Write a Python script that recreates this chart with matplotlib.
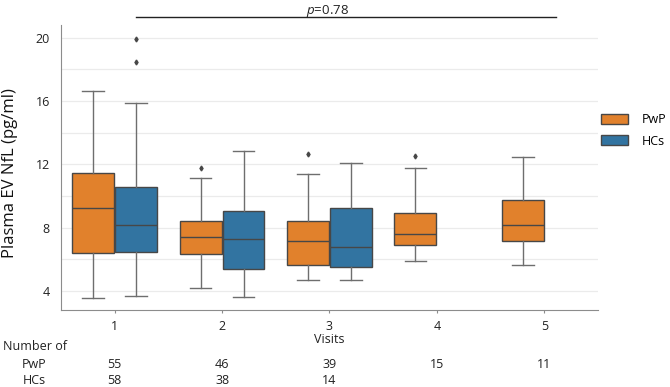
import matplotlib.pyplot as plt
from matplotlib.patches import Patch
from matplotlib.transforms import blended_transform_factory

plt.rcParams['font.family'] = ['Open Sans', 'DejaVu Sans']
plt.rcParams['mathtext.fontset'] = 'custom'
plt.rcParams['mathtext.it'] = 'Open Sans:italic'
plt.rcParams['mathtext.rm'] = 'Open Sans'

# ---------------------------------
# Data
# ---------------------------------
visits = ['1', '2', '3', '4', '5']

pwp_whislo = [3.58, 4.17, 4.67, 5.89, 5.62]
pwp_q1 = [6.41, 6.33, 5.66, 6.89, 7.19]
pwp_med = [9.25, 7.40, 7.19, 7.61, 8.18]
pwp_q3 = [11.45, 8.45, 8.45, 8.95, 9.77]
pwp_whishi = [16.67, 11.15, 11.38, 11.76, 12.49]
pwp_fliers = [[], [11.76], [12.66], [12.55], []]

hc_whislo = [3.67, 3.62, 4.69]
hc_q1 = [6.45, 5.36, 5.49]
hc_med = [8.15, 7.27, 6.79]
hc_q3 = [10.60, 9.06, 9.25]
hc_whishi = [15.89, 12.83, 12.10]
hc_fliers = [[18.45, 19.90], [], []]

pwp_n = [55, 46, 39, 15, 11]
hc_n = [58, 38, 14]

p_text = '$p$=0.78'

orange = '#e1812c'
blue = '#3274a1'
edge = '#474747'
whisk = '#6e6e6e'


def make_stats(lo, q1, med, q3, hi, fl):
    return [dict(whislo=a, q1=b, med=c, q3=d, whishi=e, fliers=f)
            for a, b, c, d, e, f in zip(lo, q1, med, q3, hi, fl)]


pwp_stats = make_stats(pwp_whislo, pwp_q1, pwp_med, pwp_q3, pwp_whishi, pwp_fliers)
hc_stats = make_stats(hc_whislo, hc_q1, hc_med, hc_q3, hc_whishi, hc_fliers)

# ---------------------------------
# Plot
# ---------------------------------
fig = plt.figure(figsize=(6.7, 3.87), dpi=100)
ax = fig.add_axes([0.091, 0.199, 0.8015, 0.736])

for stats, offset, color in [(pwp_stats, -0.2, orange), (hc_stats, 0.2, blue)]:
    pos = [i + offset for i in range(len(stats))]
    ax.bxp(stats, positions=pos, widths=0.39, patch_artist=True,
           capwidths=0.2,
           boxprops=dict(facecolor=color, edgecolor=edge, linewidth=1.0),
           medianprops=dict(color=edge, linewidth=1.0),
           whiskerprops=dict(color=whisk, linewidth=1.0),
           capprops=dict(color=whisk, linewidth=1.0),
           flierprops=dict(marker='d', markersize=2.5, markerfacecolor=edge,
                           markeredgecolor=edge))

ax.set_xlim(-0.5, 4.5)
ax.set_ylim(2.8, 20.8)
ax.set_xticks(range(len(visits)))
ax.set_xticklabels(visits)
ax.set_yticks([4, 8, 12, 16, 20])
ax.set_yticks([6, 10, 14, 18], minor=True)
ax.grid(True, axis='y', which='both', color='#ebebeb', linewidth=0.9)
ax.set_axisbelow(True)

for s in ['top', 'right']:
    ax.spines[s].set_visible(False)
for s in ['left', 'bottom']:
    ax.spines[s].set_color('#8c8c8c')
ax.tick_params(axis='x', length=2, color='#8c8c8c', labelsize=9, labelcolor='#222222', pad=5)
ax.tick_params(axis='y', which='both', length=0, labelsize=9, labelcolor='#222222', pad=8)

ax.set_xlabel('Visits', fontsize=9, color='#222222', labelpad=0)
ax.set_ylabel('Plasma EV NfL (pg/ml)', fontsize=12, color='#111111')
ax.yaxis.set_label_coords(-0.080, 0.48)

# significance bar
ax.plot([0.2, 4.11], [21.32, 21.32], color='#222222', linewidth=1.0, clip_on=False)
ax.text(1.98, 22.22, p_text, ha='center', va='top', fontsize=9.5, color='#222222')

# legend
handles = [Patch(facecolor=orange, edgecolor=edge, label='PwP'),
           Patch(facecolor=blue, edgecolor=edge, label='HCs')]
fig.legend(handles=handles, loc='upper left', bbox_to_anchor=(0.897, 0.707),
           frameon=False, fontsize=9, handlelength=2.2, handleheight=0.9,
           handletextpad=1.1, labelspacing=0.65, borderpad=0, borderaxespad=0)

# numbers table
tr = blended_transform_factory(ax.transData, fig.transFigure)
fig.text(0.005, 1 - 347 / 387, 'Number of', fontsize=9, color='#222222', va='center')
fig.text(34 / 670, 1 - 364 / 387, 'PwP', fontsize=9, color='#222222', va='center', ha='center')
fig.text(34 / 670, 1 - 381 / 387, 'HCs', fontsize=9, color='#222222', va='center', ha='center')
for i, n in enumerate(pwp_n):
    ax.text(i, 1 - 364 / 387, str(n), transform=tr, fontsize=9, color='#222222',
            ha='center', va='center')
for i, n in enumerate(hc_n):
    ax.text(i, 1 - 381 / 387, str(n), transform=tr, fontsize=9, color='#222222',
            ha='center', va='center')

fig.savefig('out.png', dpi=100)
